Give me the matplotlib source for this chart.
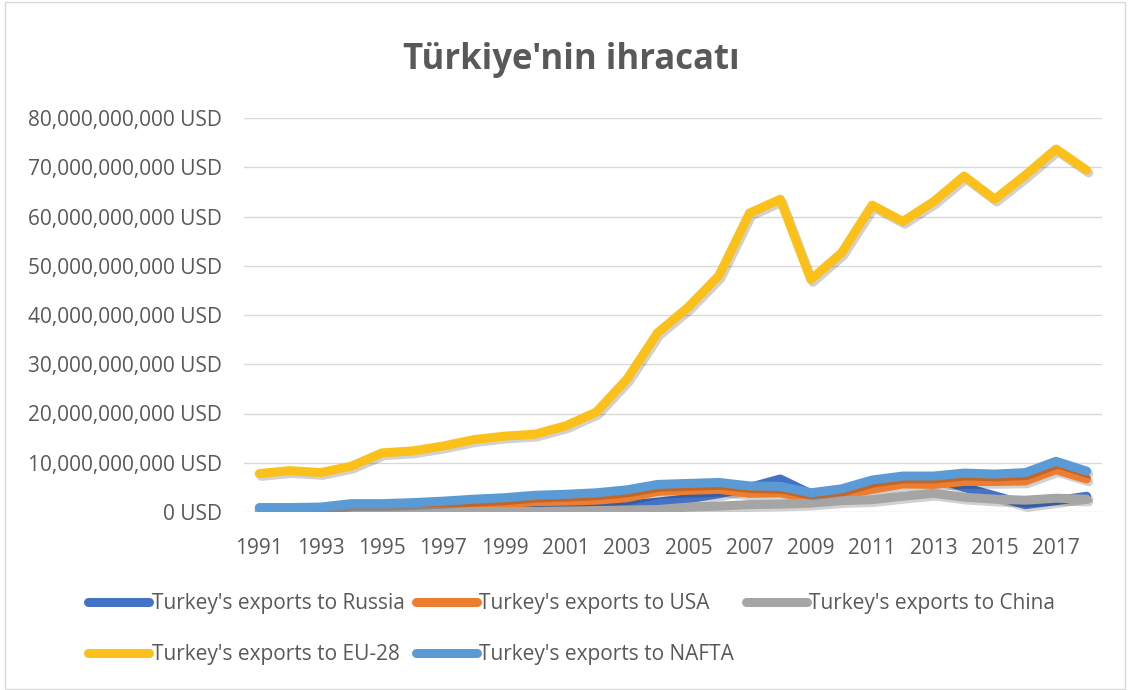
import matplotlib
matplotlib.use("Agg")
import matplotlib.pyplot as plt
import matplotlib.patheffects as pe
from matplotlib.patches import Rectangle
from matplotlib.ticker import FuncFormatter, MultipleLocator

years = list(range(1991, 2019))
russia = [0.3, 0.4, 0.5, 0.8, 1.0, 1.2, 1.3, 1.0, 0.6, 0.7, 0.9, 1.1, 1.4, 2.0,
          2.7, 3.7, 5.0, 6.7, 3.7, 4.4, 5.6, 6.6, 7.0, 5.0, 3.3, 1.5, 2.3, 3.2]
usa = [0.6, 0.6, 0.7, 0.9, 0.9, 1.0, 1.1, 1.4, 1.7, 2.1, 2.2, 2.4, 2.9, 4.2,
       4.4, 4.6, 3.8, 3.9, 2.7, 3.4, 4.6, 5.7, 5.6, 6.2, 6.2, 6.3, 8.6, 6.7]
china = [0.05, 0.05, 0.05, 0.1, 0.1, 0.1, 0.1, 0.1, 0.1, 0.1, 0.2, 0.3, 0.4, 0.5,
         1.0, 1.2, 1.5, 1.6, 1.8, 2.3, 2.5, 3.2, 3.8, 3.0, 2.6, 2.4, 2.8, 2.6]
eu28 = [7.8, 8.4, 8.0, 9.3, 12.0, 12.4, 13.4, 14.7, 15.4, 15.8, 17.5, 20.3, 27.0, 36.4,
        41.6, 48.0, 60.7, 63.5, 47.2, 52.6, 62.3, 59.0, 63.0, 68.2, 63.5, 68.4, 73.7, 69.4]
nafta = [0.9, 0.9, 1.0, 1.7, 1.7, 1.9, 2.2, 2.6, 2.9, 3.4, 3.6, 3.9, 4.5, 5.6,
         5.8, 6.0, 5.3, 5.2, 3.9, 4.7, 6.5, 7.3, 7.3, 7.9, 7.7, 8.0, 10.3, 8.3]

series = [
    ("Turkey's exports to Russia", russia, "#4472C4"),
    ("Turkey's exports to USA", usa, "#ED7D31"),
    ("Turkey's exports to China", china, "#A5A5A5"),
    ("Turkey's exports to EU-28", eu28, "#FBC11A"),
    ("Turkey's exports to NAFTA", nafta, "#5B9BD5"),
]

FONT = "Open Sans"
TXT = "#595959"

fig = plt.figure(figsize=(11.32, 6.90), dpi=100)
fig.patch.set_facecolor("white")
fig.patches.append(Rectangle((5 / 1132, 1 / 690), 1120 / 1132, 687 / 690,
                             transform=fig.transFigure, fill=False,
                             edgecolor="#D9D9D9", linewidth=1.0))

ax = fig.add_axes([244 / 1132, 178 / 690, 858 / 1132, 394 / 690])
ax.set_facecolor("white")

handles = {}
for name, vals, col in series:
    ln, = ax.plot(years, [v * 1e9 for v in vals], color=col, linewidth=6.5,
                  solid_capstyle="round", solid_joinstyle="round", label=name,
                  zorder=3,
                  path_effects=[pe.SimpleLineShadow(offset=(1.5, -2), shadow_color="black", alpha=0.18),
                                pe.Normal()])
    handles[name] = ln

ax.set_xlim(1990.5, 2018.5)
ax.set_ylim(0, 80e9)
ax.yaxis.set_major_locator(MultipleLocator(10e9))
ax.yaxis.set_major_formatter(FuncFormatter(lambda v, p: f"{int(round(v)):,} USD"))
ax.set_xticks(years[::2])
ax.set_xticklabels([str(y) for y in years[::2]])
ax.grid(axis="y", color="#D9D9D9", linewidth=1.0, zorder=0)
ax.set_axisbelow(True)
for s in ax.spines.values():
    s.set_visible(False)
ax.tick_params(axis="both", length=0, labelcolor=TXT, labelsize=15)
ax.tick_params(axis="y", pad=16)
ax.tick_params(axis="x", pad=19)
for lab in ax.get_xticklabels() + ax.get_yticklabels():
    lab.set_fontfamily(FONT)

fig.text(571 / 1132, 1 - 60 / 690, "Türkiye'nin ihracatı", ha="center", va="center",
         fontsize=25, fontweight="bold", color=TXT, family=FONT)

order = ["Turkey's exports to Russia", "Turkey's exports to EU-28",
         "Turkey's exports to USA", "Turkey's exports to NAFTA",
         "Turkey's exports to China"]
leg = fig.legend([handles[n] for n in order], order, ncol=3,
                 loc="upper left", bbox_to_anchor=(88 / 1132, 1 - 593 / 690),
                 frameon=False, handlelength=2.95, handletextpad=0.1,
                 columnspacing=0.55, labelspacing=1.46, borderpad=0, borderaxespad=0,
                 prop={"family": FONT, "size": 15})
for t in leg.get_texts():
    t.set_color(TXT)
for h in leg.legend_handles:
    h.set_path_effects([pe.Normal()])
    h.set_linewidth(6.5)

fig.savefig("out.png", dpi=100, facecolor="white")
